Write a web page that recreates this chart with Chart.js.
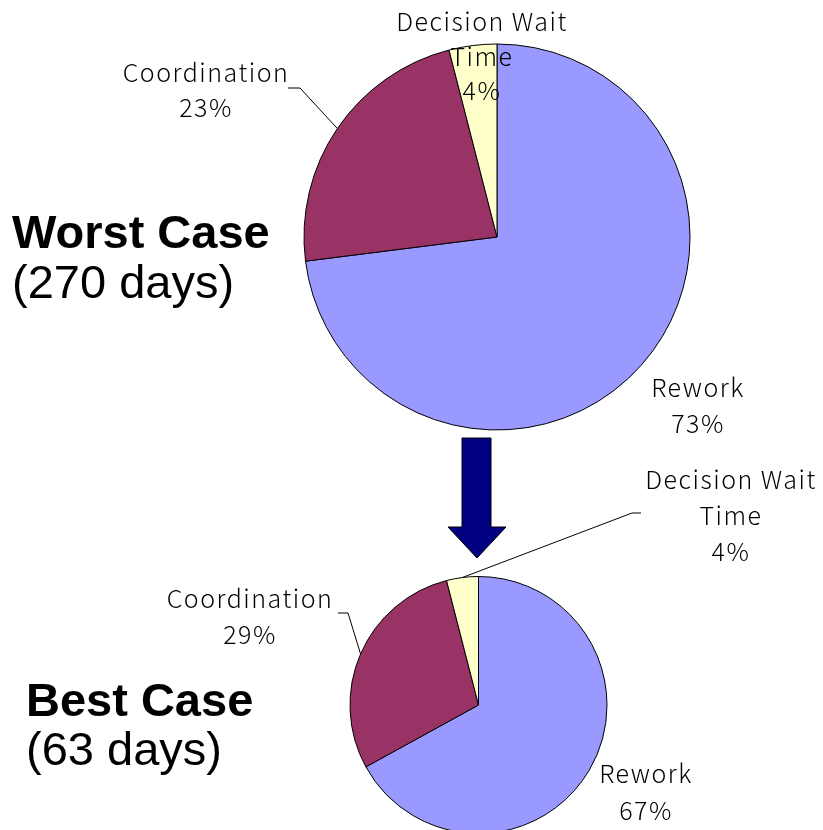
<!DOCTYPE html>
<html><head><meta charset="utf-8">
<script src="https://cdn.jsdelivr.net/npm/chart.js@4.4.0/dist/chart.umd.min.js"></script>
<style>
html,body{margin:0;padding:0;background:#fff;width:823px;height:830px;overflow:hidden;}
.wrap{position:absolute;left:0;top:0;width:823px;height:830px;}
</style></head><body>
<div class="wrap"><canvas id="c1" width="823" height="830"></canvas></div>
<div class="wrap"><canvas id="c2" width="823" height="830"></canvas></div>
<script>
// ---- data ----
const categories = ['Rework', 'Coordination', 'Decision Wait Time'];
const worstValues = [73, 23, 4];
const bestValues = [67, 29, 4];
const caseTitles = ['Worst Case', 'Best Case'];
const caseDays = ['(270 days)', '(63 days)'];

// ---- styles / layout ----
const sliceColors = ['#9999FF', '#993366', '#FFFFCC'];
const labelFont = '300 25px "Noto Sans CJK JP"';
const labelSpacing = '1.5px';
const bigFont = '"Liberation Sans", Arial, sans-serif';

function labelLines(cat, val) {
  const lines = cat === 'Decision Wait Time' ? ['Decision Wait', 'Time'] : [cat];
  lines.push(val + '%');
  return lines;
}

const layouts = [
  { // worst case
    center: [497, 237], radius: 193,
    labels: [
      { x: 698, y: 397, lh: 36, leader: null },
      { x: 206, y: 82, lh: 35, leader: [[288, 88], [300, 88]] },
      { x: 482, y: 31, lh: 34.5, leader: null }
    ],
    title: { x: 12, y: 248 }, days: { x: 12, y: 298 }
  },
  { // best case
    center: [478.5, 705], radius: 128.5,
    labels: [
      { x: 646, y: 783, lh: 37, leader: null },
      { x: 250, y: 608, lh: 36, leader: [[338, 613], [348, 613]] },
      { x: 731, y: 489, lh: 36, leader: [[641, 513], [632, 513]] }
    ],
    title: { x: 26, y: 716 }, days: { x: 26, y: 765 }
  }
];

const labelPlugin = {
  id: 'labels',
  afterDraw(chart) {
    const idx = chart.options.plugins.labels.idx;
    const lay = layouts[idx];
    const ctx = chart.ctx;
    const meta = chart.getDatasetMeta(0);
    const values = chart.data.datasets[0].data;
    ctx.save();
    // leader lines
    ctx.strokeStyle = '#000';
    ctx.lineWidth = 1;
    meta.data.forEach((arc, i) => {
      const spec = lay.labels[i];
      if (!spec.leader) return;
      const p = arc.getProps(['x', 'y', 'startAngle', 'endAngle', 'outerRadius'], true);
      const mid = (p.startAngle + p.endAngle) / 2;
      const ex = p.x + Math.cos(mid) * p.outerRadius;
      const ey = p.y + Math.sin(mid) * p.outerRadius;
      ctx.beginPath();
      ctx.moveTo(spec.leader[0][0], spec.leader[0][1]);
      ctx.lineTo(spec.leader[1][0], spec.leader[1][1]);
      ctx.lineTo(ex, ey);
      ctx.stroke();
    });
    // slice labels
    ctx.fillStyle = '#000';
    ctx.font = labelFont;
    ctx.letterSpacing = labelSpacing;
    ctx.textAlign = 'center';
    ctx.textBaseline = 'alphabetic';
    chart.data.labels.forEach((cat, i) => {
      const spec = lay.labels[i];
      labelLines(cat, values[i]).forEach((t, k) => {
        ctx.fillText(t, spec.x, spec.y + k * spec.lh);
      });
    });
    ctx.letterSpacing = '0px';
    // case titles
    ctx.textAlign = 'left';
    ctx.font = 'bold 47px ' + bigFont;
    ctx.fillText(caseTitles[idx], lay.title.x, lay.title.y);
    ctx.font = '47px ' + bigFont;
    ctx.fillText(caseDays[idx], lay.days.x, lay.days.y);
    // arrow between the two pies
    if (idx === 0) {
      ctx.beginPath();
      ctx.moveTo(462, 438); ctx.lineTo(491, 438); ctx.lineTo(491, 527);
      ctx.lineTo(506, 527); ctx.lineTo(477, 558); ctx.lineTo(448, 527);
      ctx.lineTo(462, 527); ctx.closePath();
      ctx.fillStyle = '#000080';
      ctx.fill();
      ctx.strokeStyle = '#000';
      ctx.stroke();
    }
    ctx.restore();
  }
};

function makePie(id, values, idx) {
  const lay = layouts[idx];
  const W = 823, H = 830, half = 200;
  const cx = lay.center[0], cy = lay.center[1];
  const top = Math.max(0, cy - half);
  const bottom = Math.min(H, 2 * cy - top);
  const realTop = 2 * cy - bottom;
  return new Chart(document.getElementById(id), {
    type: 'pie',
    data: {
      labels: categories,
      datasets: [{
        data: values,
        backgroundColor: sliceColors,
        borderColor: '#000',
        borderWidth: 1,
        radius: lay.radius,
        clip: false
      }]
    },
    options: {
      responsive: false,
      animation: false,
      events: [],
      layout: { padding: { left: cx - half, right: W - (cx + half), top: realTop, bottom: H - bottom } },
      plugins: { legend: { display: false }, tooltip: { enabled: false }, labels: { idx: idx } }
    },
    plugins: [labelPlugin]
  });
}

makePie('c1', worstValues, 0);
makePie('c2', bestValues, 1);
</script>
</body></html>
